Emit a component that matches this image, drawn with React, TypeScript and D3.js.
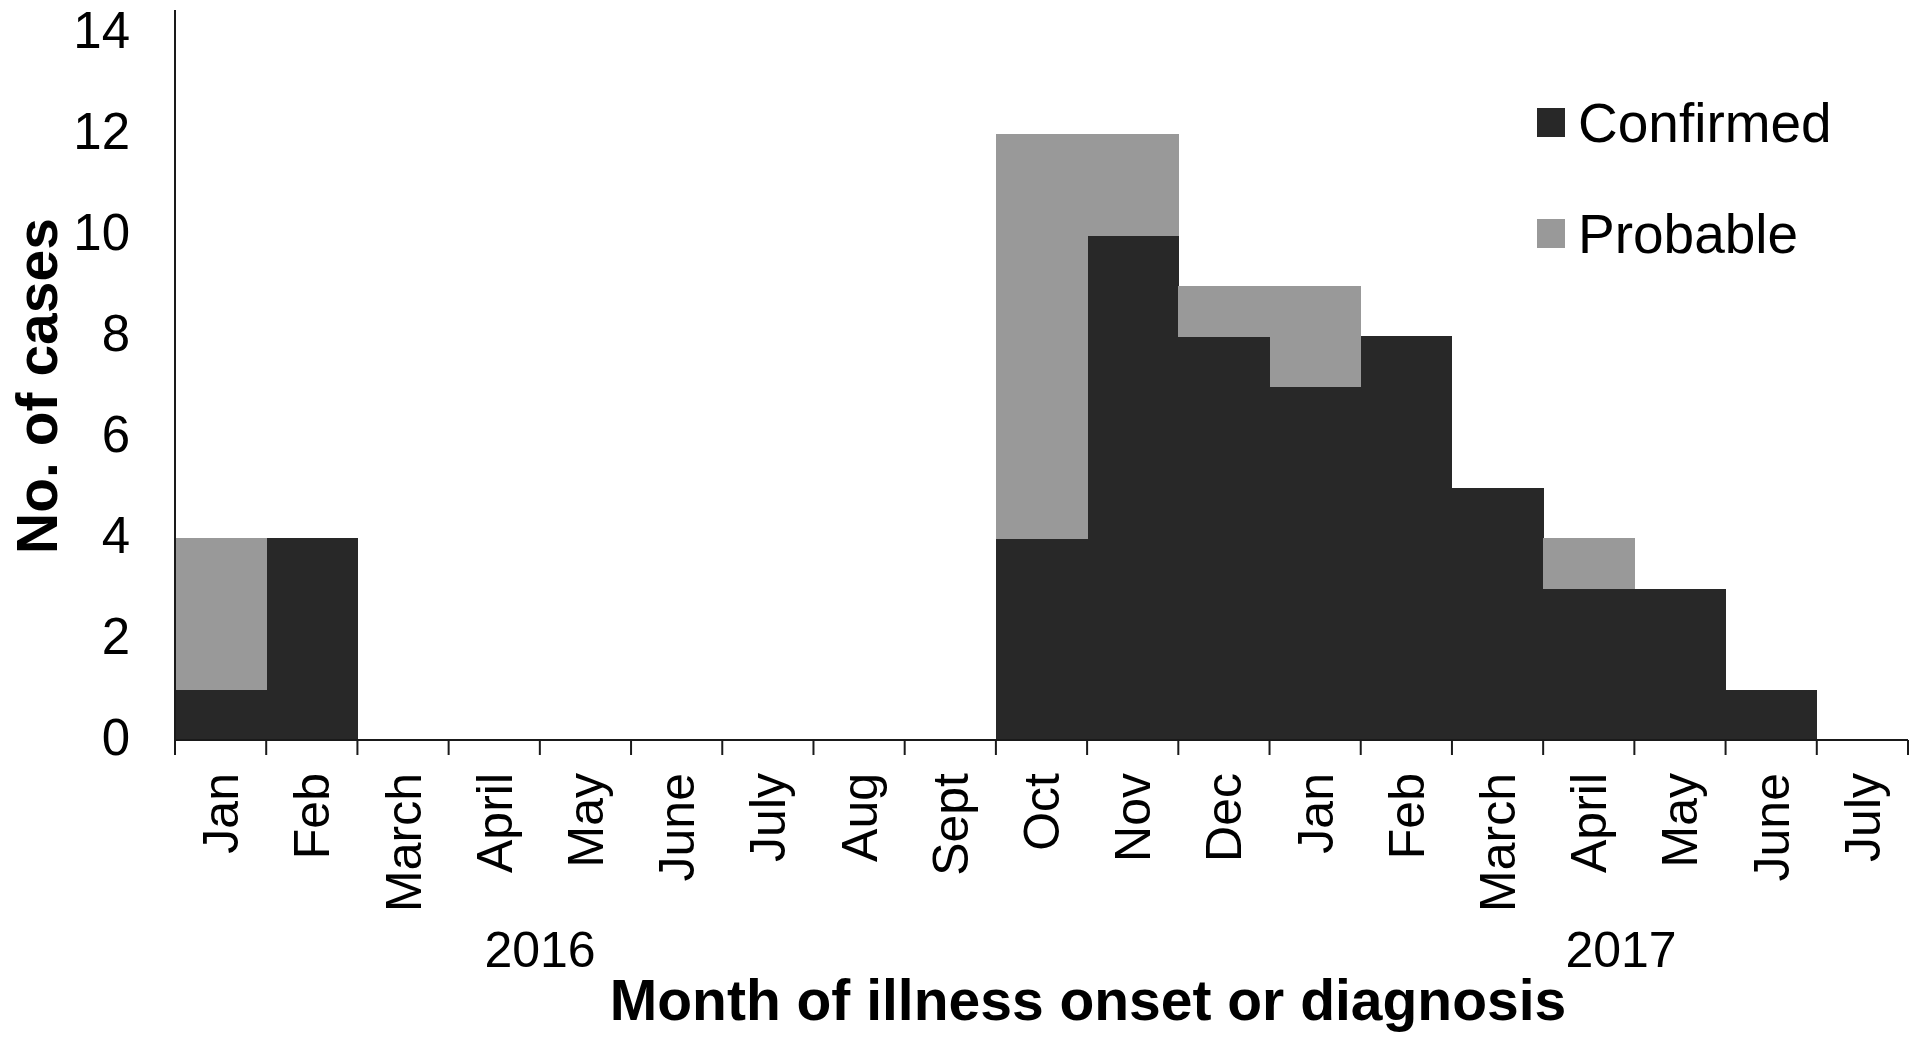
import * as React from 'react'
import * as d3 from 'd3'

// month of illness onset, Jan 2016 .. July 2017
const months = ['Jan', 'Feb', 'March', 'April', 'May', 'June', 'July', 'Aug', 'Sept', 'Oct', 'Nov', 'Dec',
    'Jan', 'Feb', 'March', 'April', 'May', 'June', 'July']
const confirmed = [1, 4, 0, 0, 0, 0, 0, 0, 0, 4, 10, 8, 7, 8, 5, 3, 3, 1, 0]
const probable = [3, 0, 0, 0, 0, 0, 0, 0, 0, 8, 2, 1, 2, 0, 0, 1, 0, 0, 0]
const yTicks = [0, 2, 4, 6, 8, 10, 12, 14]
const seriesNames = ['Confirmed', 'Probable']
const seriesColors = ['#282828', '#999999']
const years = [{ label: '2016', x: 540 }, { label: '2017', x: 1621 }]

const W = 1920
const H = 1039
const left = 175
const right = 1908
const bottom = 740
const font = '"Liberation Sans", Arial, sans-serif'

export default function App() {
    const keys = months.map((_, i) => String(i))
    const x = d3.scaleBand().domain(keys).range([left, right]).padding(0)
    const y = d3.scaleLinear().domain([0, 14]).range([bottom, 33])

    const rows = months.map((m, i) => ({ key: String(i), Confirmed: confirmed[i], Probable: probable[i] }))
    const stacked = d3.stack<any>().keys(seriesNames)(rows)

    const bw = x.bandwidth()
    const boundaries = keys.map(k => x(k) as number).concat([right])

    return <svg width={W} height={H} style={{ position: 'absolute', left: 0, top: 0, background: '#fff' }}>
        {stacked.map((s, si) => (
            <g key={s.key} fill={seriesColors[si]} shapeRendering='crispEdges'>
                {s.map((d, i) => d[1] > d[0] ? (
                    <rect key={i} x={x(keys[i])} y={y(d[1])} width={bw + 0.5} height={y(d[0]) - y(d[1]) + 0.5} />
                ) : null)}
            </g>
        ))}

        {/* axes */}
        <line x1={left} x2={left} y1={10} y2={bottom + 15} stroke='#1a1a1a' strokeWidth={2} />
        <line x1={left} x2={right} y1={bottom} y2={bottom} stroke='#1a1a1a' strokeWidth={2} />
        {boundaries.map((bx, i) => (
            <line key={i} x1={bx} x2={bx} y1={bottom} y2={bottom + 15} stroke='#1a1a1a' strokeWidth={2} />
        ))}

        {yTicks.map(t => (
            <text key={t} x={130} y={y(t) - 3} dy='0.35em' textAnchor='end' fontFamily={font} fontSize={51} fill='#000'>{t}</text>
        ))}

        {months.map((m, i) => (
            <text key={i} transform={`translate(${(x(keys[i]) as number) + bw / 2},773) rotate(-90)`} dy='0.35em'
                textAnchor='end' fontFamily={font} fontSize={50} fill='#000'>{m}</text>
        ))}

        {years.map(yr => (
            <text key={yr.label} x={yr.x} y={967} textAnchor='middle' fontFamily={font} fontSize={50} fill='#000'>{yr.label}</text>
        ))}

        <text x={1088} y={1020} textAnchor='middle' fontFamily={font} fontSize={57} fontWeight='bold' fill='#000'>
            Month of illness onset or diagnosis
        </text>
        <text transform='translate(37,386) rotate(-90)' dy='0.35em' textAnchor='middle' fontFamily={font}
            fontSize={57} fontWeight='bold' fill='#000'>No. of cases</text>

        {/* legend */}
        {seriesNames.map((n, i) => (
            <g key={n} transform={`translate(1537,${108 + i * 111})`}>
                <rect width={28} height={29} fill={seriesColors[i]} />
                <text x={41} y={34} fontFamily={font} fontSize={55} fill='#000'>{n}</text>
            </g>
        ))}
    </svg>
}
